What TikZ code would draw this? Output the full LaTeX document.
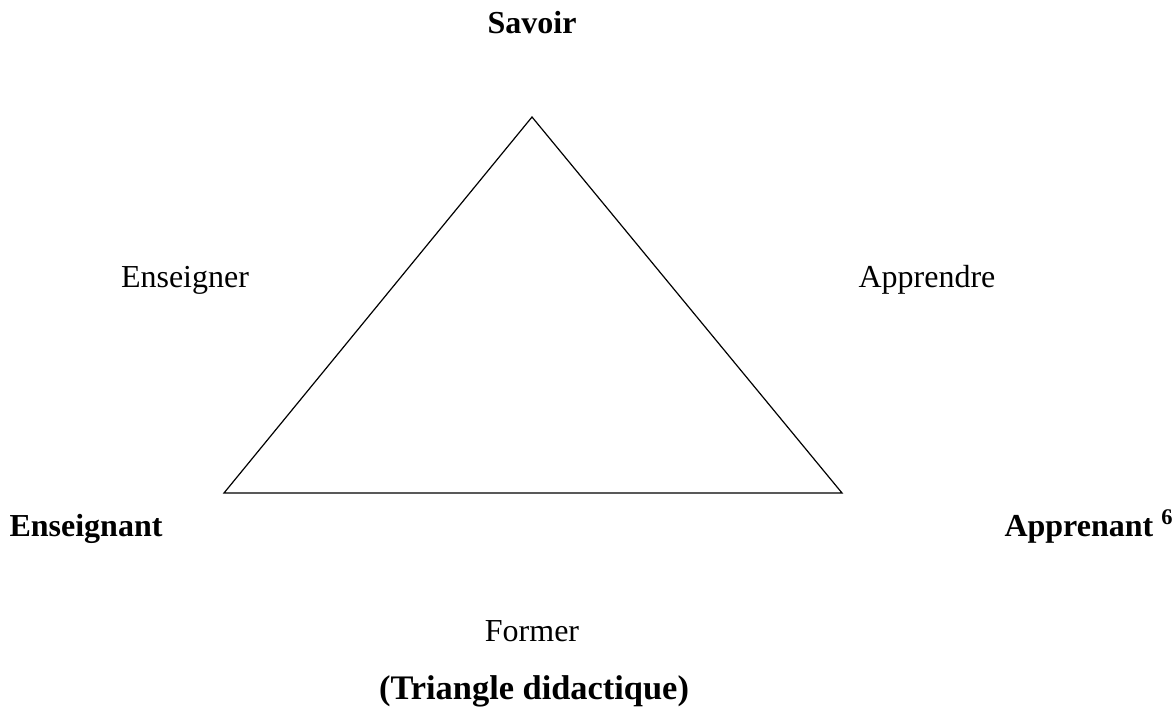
\documentclass[tikz,border=0pt]{standalone}
\usepackage{fontspec}
\setmainfont{Liberation Serif}
\tikzset{
  vertexlabel/.style={font=\bfseries\fontsize{16}{19}\selectfont, anchor=base},
  actionlabel/.style={font=\fontsize{16}{19}\selectfont, anchor=base},
  titlelabel/.style={font=\bfseries\fontsize{17.2}{20}\selectfont, anchor=base}
}

\begin{document}
\begin{tikzpicture}[x=0.5pt, y=0.5pt]
        \useasboundingbox (0, 0) rectangle (1176, 706);

        \coordinate (savoir) at (532, 589);
        \coordinate (enseignant) at (224, 213);
        \coordinate (apprenant) at (842, 213);

        \draw[line width=0.6pt] (savoir) -- (apprenant) -- (enseignant) -- cycle;

        \node[vertexlabel] (lsavoir) at (532, 672) {Savoir};
        \node[vertexlabel] (lenseignant) at (86, 169) {Enseignant};
        \node[vertexlabel] (lapprenant) at (1089, 169) {Apprenant \textsuperscript{6}};

        \node[actionlabel] (enseigner) at (185, 418) {Enseigner};
        \node[actionlabel] (apprendre) at (927, 418) {Apprendre};
        \node[actionlabel] (former) at (532, 65) {Former};

        \node[titlelabel] (titre) at (534, 7) {(Triangle didactique)};
    \end{tikzpicture}
\end{document}
